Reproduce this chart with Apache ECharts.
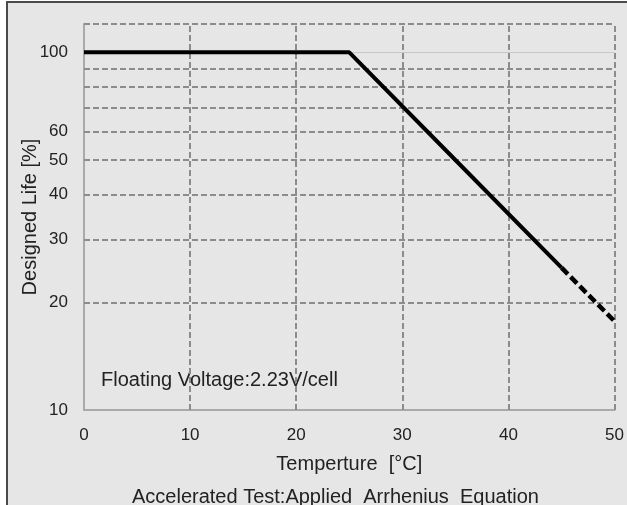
<!DOCTYPE html>
<html>
<head>
<meta charset="utf-8">
<script src="https://cdn.jsdelivr.net/npm/echarts@6/dist/echarts.min.js"></script>
<style>
  html, body { margin: 0; padding: 0; background: #ffffff; }
  #wrap { position: relative; width: 627px; height: 505px; overflow: hidden; background: #ffffff; }
  #frame { position: absolute; left: 6px; top: 1px; width: 640px; height: 520px; background: #e6e6e6;
           border-left: 2px solid #4a4a4a; border-top: 2px solid #4a4a4a; }
  #chart { position: absolute; left: 0; top: 0; width: 627px; height: 505px; }
</style>
</head>
<body>
<div id="wrap">
  <div id="frame"></div>
  <div id="chart"></div>
</div>
<script>
// Temperature (°C) vs designed life (%)
const solidLine = [[0, 100], [25, 100], [35, 50], [45, 25]];
const dashedLine = [[45, 25], [50, 17.7]];
const yTickLabels = [10, 20, 30, 40, 50, 60, 100];
const yGridDashed = [20, 30, 40, 50, 60, 70, 80, 90, 120];
const yGridSolid = [100];
const xGrid = [10, 20, 30, 40, 50];

const FONT = 'Liberation Sans, Arial, sans-serif';
const chart = echarts.init(document.getElementById('chart'), null, { renderer: 'canvas' });

const gridDash = { color: '#8c8c8c', width: 2, type: [6, 3] };

const option = {
  backgroundColor: 'transparent',
  animation: false,
  grid: { left: 84, right: 7, top: 24, bottom: 95 },
  xAxis: {
    type: 'value', min: 0, max: 50, interval: 10,
    axisLine: { show: true, lineStyle: { color: '#aaaaaa', width: 2 } },
    axisTick: { show: false },
    splitLine: { show: false },
    axisLabel: { color: '#222', fontSize: 17, fontFamily: FONT, margin: 17 },
    name: 'Temperture  [°C]', nameLocation: 'middle', nameGap: 44, nameMoveOverlap: false,
    nameTextStyle: { color: '#222', fontSize: 20, fontFamily: FONT }
  },
  yAxis: {
    type: 'log', logBase: 10, min: 10, max: 120,
    axisLine: { show: true, lineStyle: { color: '#aaaaaa', width: 2 } },
    axisTick: { show: false },
    splitLine: { show: false },
    axisLabel: { color: '#222', fontSize: 17, fontFamily: FONT, margin: 16, customValues: yTickLabels },
    name: 'Designed Life [%]', nameLocation: 'middle', nameGap: 44, nameRotate: 90, nameMoveOverlap: false,
    nameTextStyle: { color: '#222', fontSize: 20, fontFamily: FONT }
  },
  series: [
    {
      type: 'line', data: [], silent: true,
      markLine: {
        silent: true, symbol: 'none', animation: false,
        label: { show: false },
        lineStyle: gridDash,
        data: yGridDashed.map(v => ({ yAxis: v }))
          .concat(xGrid.map(v => ({ xAxis: v })))
          .concat(yGridSolid.map(v => ({ yAxis: v, lineStyle: { color: '#c8c8c8', width: 1, type: 'solid' } })))
      }
    },
    {
      type: 'line', data: solidLine, showSymbol: false, symbol: 'none',
      lineStyle: { color: '#000', width: 4 }, z: 5, clip: false
    },
    {
      type: 'line', data: dashedLine, showSymbol: false, symbol: 'none',
      lineStyle: { color: '#000', width: 4.5, type: [9, 4] }, z: 5, clip: false
    }
  ],
  graphic: [
    { type: 'text', left: 101, top: 370, style: { text: 'Floating Voltage:2.23V/cell', fill: '#222', font: '20px ' + FONT } },
    { type: 'text', left: 132, top: 487, style: { text: 'Accelerated Test:Applied  Arrhenius  Equation', fill: '#222', font: '20px ' + FONT } }
  ]
};
chart.setOption(option);
</script>
</body>
</html>
